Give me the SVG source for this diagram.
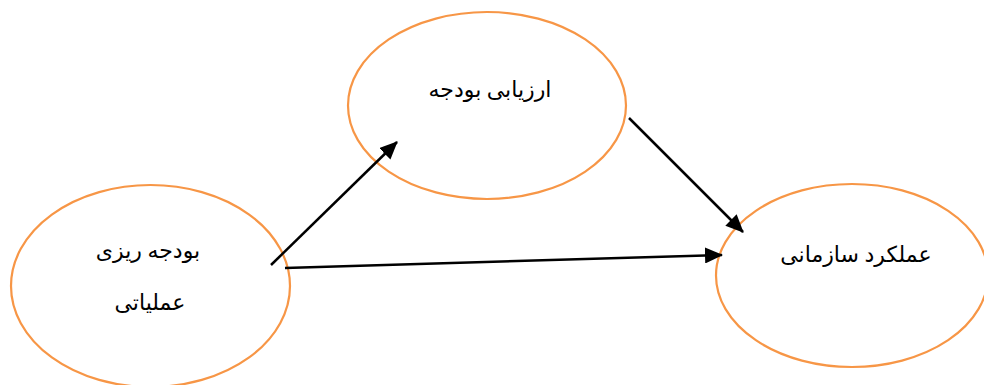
<svg xmlns="http://www.w3.org/2000/svg" width="984" height="385" viewBox="0 0 984 385">
<style>
.n{fill:#fff;stroke:#F79646;stroke-width:2.2}
.t{font-family:"Liberation Serif","DejaVu Serif","DejaVu Sans",serif;font-size:22px;fill:#000;text-anchor:middle;direction:rtl}
.c{stroke:#000;stroke-width:2.5;fill:none;marker-end:url(#ah)}
</style>
<defs>
<marker id="ah" markerWidth="18" markerHeight="16" refX="17" refY="8" orient="auto" markerUnits="userSpaceOnUse" viewBox="0 0 18 16">
<path d="M0,0 L18,8 L0,16 z" fill="#000"/>
</marker>
</defs>
<g id="node-top">
<ellipse class="n" cx="487" cy="105.5" rx="139" ry="93.5"/>
<text class="t" x="490" y="97">ارزیابی بودجه</text>
</g>
<g id="node-left">
<ellipse class="n" cx="150.5" cy="286" rx="139.5" ry="101"/>
<text class="t" x="148" y="258">بودجه ریزی</text>
<text class="t" x="150" y="310">عملیاتی</text>
</g>
<g id="node-right">
<ellipse class="n" cx="852" cy="275.5" rx="136" ry="91.5"/>
<text class="t" x="856" y="262">عملکرد سازمانی</text>
</g>
<g id="connectors">
<line class="c" x1="271" y1="265" x2="397" y2="142"/>
<line class="c" x1="629" y1="118" x2="743" y2="232"/>
<line class="c" x1="285" y1="268" x2="722" y2="255"/>
</g>
</svg>
